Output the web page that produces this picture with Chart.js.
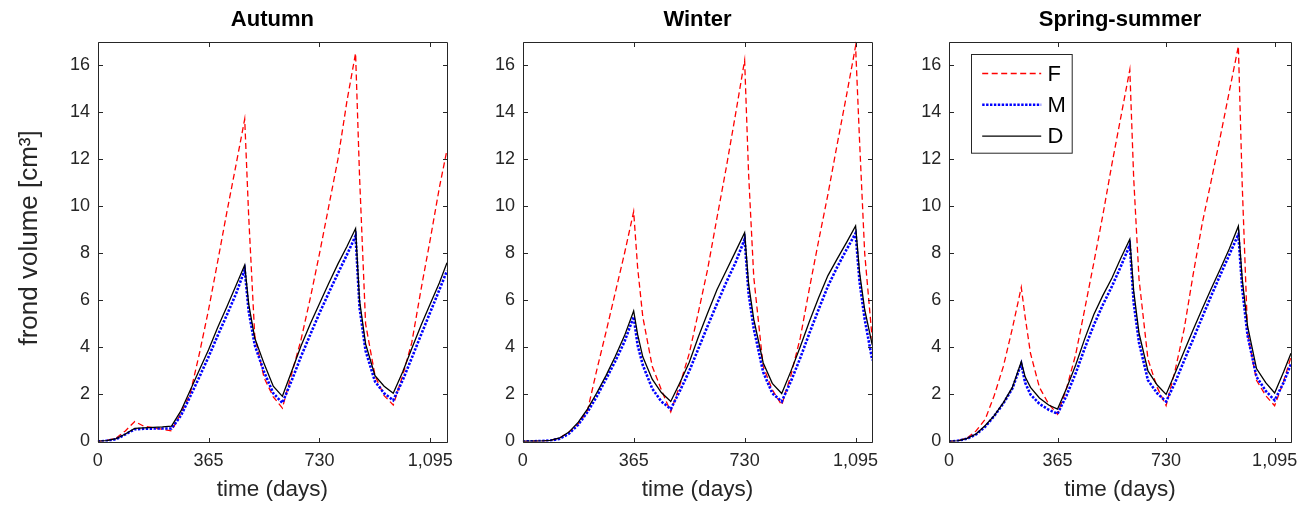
<!DOCTYPE html>
<html><head><meta charset="utf-8">
<script src="https://cdn.jsdelivr.net/npm/chart.js@4/dist/chart.umd.min.js"></script>
<style>
html,body{margin:0;padding:0;background:#fff;width:1311px;height:509px;overflow:hidden}
canvas{position:absolute;top:0}
</style></head><body>
<canvas id="c1" width="460" height="509" style="left:0px"></canvas>
<canvas id="c2" width="425" height="509" style="left:460px"></canvas>
<canvas id="c3" width="426" height="509" style="left:885px"></canvas>
<script>
// ---- data ----
const seriesNames = ['F', 'M', 'D'];
const panelTitles = ['Autumn', 'Winter', 'Spring-summer'];
const xTickValues = [0, 365, 730, 1095];
const yTickValues = [0, 2, 4, 6, 8, 10, 12, 14, 16];

const autumnDays = [0,30,61,91,122,152,183,213,243,274,304,335,365,395,426,456,484,497,517,548,578,608,639,669,700,730,760,791,821,849,862,882,913,943,973,1004,1034,1065,1095,1125,1150];
const autumnF = [0,0.04,0.15,0.45,0.85,0.65,0.58,0.52,0.45,1.2,2.0,3.75,5.6,7.65,9.8,11.8,13.7,9.6,4.5,2.7,1.9,1.42,2.9,4.3,6.1,7.97,9.95,12.0,14.5,16.5,11.3,5.0,2.8,1.95,1.55,2.8,4.2,6.5,8.6,10.8,12.4];
const autumnM = [0,0.03,0.1,0.3,0.52,0.54,0.55,0.55,0.55,1.1,1.9,2.75,3.6,4.5,5.4,6.3,7.3,5.55,4.1,2.95,2.05,1.64,2.6,3.6,4.55,5.45,6.3,7.15,7.95,8.74,5.7,3.85,2.55,2.05,1.75,2.6,3.55,4.55,5.5,6.45,7.26];
const autumnD = [0,0.04,0.12,0.32,0.56,0.58,0.6,0.62,0.65,1.3,2.16,3.05,3.9,4.85,5.75,6.65,7.5,5.85,4.4,3.3,2.35,1.92,3.0,4.05,5.0,5.85,6.7,7.55,8.3,9.05,6.0,4.15,2.8,2.35,2.05,2.95,3.95,4.95,5.85,6.75,7.6];

const winterDays = [0,30,61,91,122,152,183,213,243,274,304,335,365,378,395,426,456,487,517,548,578,608,639,669,700,730,743,760,791,821,852,882,913,943,973,1004,1034,1065,1095,1108,1125,1150];
const winterF = [0,0.01,0.02,0.05,0.15,0.4,0.75,1.3,3.0,4.65,6.3,8.0,9.77,7.4,5.3,3.2,2.2,1.26,2.4,3.75,5.5,7.3,9.5,11.6,13.9,16.2,11.4,7.0,3.2,2.2,1.55,2.8,4.4,6.5,8.5,10.5,12.6,14.7,16.8,12.8,8.0,4.3];
const winterM = [0,0.01,0.02,0.04,0.12,0.33,0.72,1.25,1.9,2.65,3.4,4.25,5.3,4.1,3.25,2.25,1.7,1.38,2.15,3.0,3.95,4.9,5.85,6.75,7.6,8.6,6.3,4.8,2.95,2.05,1.7,2.55,3.55,4.6,5.6,6.6,7.4,8.15,8.85,6.8,5.2,3.45];
const winterD = [0,0.01,0.02,0.05,0.15,0.4,0.82,1.38,2.05,2.8,3.6,4.5,5.55,4.55,3.6,2.65,2.08,1.7,2.5,3.37,4.45,5.45,6.45,7.25,8.07,8.87,6.7,5.2,3.35,2.47,2.04,2.98,4.03,5.1,6.1,7.05,7.75,8.45,9.16,7.2,5.6,4.1];

const springDays = [0,30,61,91,122,152,183,213,243,256,274,304,335,365,395,426,456,487,517,548,578,608,621,639,669,700,730,760,791,821,852,882,913,943,973,986,1004,1034,1065,1095,1125,1150];
const springF = [0,0.03,0.15,0.45,0.95,1.95,3.2,4.8,6.55,5.3,3.75,2.3,1.6,1.16,2.25,3.7,5.6,7.6,9.6,11.8,13.8,15.8,11.2,6.9,3.5,2.3,1.52,3.0,4.8,7.1,9.3,11.1,13.0,14.9,16.8,10.9,4.6,2.6,1.95,1.52,2.55,3.6];
const springM = [0,0.03,0.12,0.3,0.63,1.08,1.62,2.25,3.3,2.5,2.0,1.6,1.35,1.18,1.95,2.9,3.95,4.95,5.8,6.6,7.45,8.35,5.9,4.2,2.6,2.05,1.7,2.5,3.45,4.35,5.3,6.2,7.1,7.95,8.8,6.5,4.5,2.75,2.15,1.75,2.5,3.3];
const springD = [0,0.03,0.13,0.32,0.68,1.1,1.65,2.3,3.39,2.75,2.3,1.85,1.55,1.38,2.25,3.25,4.35,5.4,6.2,6.95,7.8,8.6,6.4,4.6,3.0,2.4,2.0,2.9,3.85,4.75,5.65,6.5,7.35,8.2,9.15,6.9,4.9,3.1,2.5,2.06,2.95,3.75];

// ---- styling ----
Chart.defaults.font.family = "'Liberation Sans', Arial, Helvetica, sans-serif";
const axisColor = '#262626';

const boxAxes = {
  id: 'boxAxes',
  afterDatasetsDraw(chart) {
    const {ctx, chartArea: a, scales: {x, y}} = chart;
    const L = Math.round(a.left) + 0.5, R = Math.round(a.right) + 0.5;
    const T = Math.round(a.top) + 0.5, B = Math.round(a.bottom) + 0.5;
    const tl = 4.5;
    ctx.save();
    ctx.strokeStyle = axisColor;
    ctx.lineWidth = 1;
    ctx.setLineDash([]);
    ctx.beginPath();
    ctx.rect(L, T, R - L, B - T);
    x.ticks.forEach(t => {
      const px = Math.round(x.getPixelForValue(t.value)) + 0.5;
      ctx.moveTo(px, B); ctx.lineTo(px, B - tl);
      ctx.moveTo(px, T); ctx.lineTo(px, T + tl);
    });
    y.ticks.forEach(t => {
      const py = Math.round(y.getPixelForValue(t.value)) + 0.5;
      ctx.moveTo(L, py); ctx.lineTo(L + tl, py);
      ctx.moveTo(R, py); ctx.lineTo(R - tl, py);
    });
    ctx.stroke();
    ctx.restore();
  }
};

const insetLegend = {
  id: 'insetLegend',
  afterDraw(chart, args, o) {
    if (!o || !o.display) return;
    const {ctx, chartArea: a} = chart;
    const bx = Math.round(a.left + o.offsetX) + 0.5, by = Math.round(a.top + o.offsetY) + 0.5;
    ctx.save();
    ctx.fillStyle = '#ffffff';
    ctx.fillRect(bx, by, o.width, o.height);
    ctx.strokeStyle = axisColor;
    ctx.lineWidth = 1;
    ctx.strokeRect(bx, by, o.width, o.height);
    chart.data.datasets.forEach((ds, i) => {
      const yy = by + o.firstRow + i * o.rowGap;
      ctx.beginPath();
      ctx.setLineDash(ds.borderDash || []);
      ctx.strokeStyle = ds.borderColor;
      ctx.lineWidth = ds.borderWidth;
      ctx.moveTo(bx + o.lineStart, yy);
      ctx.lineTo(bx + o.lineEnd, yy);
      ctx.stroke();
      ctx.setLineDash([]);
      ctx.fillStyle = '#000000';
      ctx.font = o.font;
      ctx.textBaseline = 'middle';
      ctx.textAlign = 'left';
      ctx.fillText(ds.label, bx + o.textX, yy + 1);
    });
    ctx.restore();
  }
};

const lineStyles = [
  {borderColor: '#ff0000', borderWidth: 1.3, borderDash: [6, 3.5], order: 3},
  {borderColor: '#0000ff', borderWidth: 2.6, borderDash: [2.4, 1.5], order: 2},
  {borderColor: '#000000', borderWidth: 1.3, borderDash: [], order: 1}
];

function makePanel(canvasId, idx, days, seriesList, layout) {
  const datasets = seriesList.map((vals, k) => Object.assign({
    label: seriesNames[k],
    data: days.map((d, j) => ({x: d, y: vals[j]})),
    pointRadius: 0,
    tension: 0,
    fill: false,
    borderCapStyle: 'butt',
    borderJoinStyle: 'miter'
  }, lineStyles[k]));
  return new Chart(document.getElementById(canvasId), {
    type: 'line',
    data: {datasets},
    plugins: [boxAxes, insetLegend],
    options: {
      responsive: false,
      animation: false,
      devicePixelRatio: 1,
      layout: {padding: {left: 0, right: layout.padRight, top: 0, bottom: 0}},
      plugins: {
        legend: {display: false},
        tooltip: {enabled: false},
        title: {
          display: true, fullSize: false, text: panelTitles[idx], color: '#000000',
          font: {size: 22, weight: 'bold'}, padding: {top: 7, bottom: 8.1}
        },
        insetLegend: layout.legend || {display: false}
      },
      scales: {
        x: {
          type: 'linear', min: 0, max: 1150,
          grid: {display: false, drawTicks: false},
          border: {display: false},
          afterBuildTicks: s => { s.ticks = xTickValues.map(v => ({value: v})); },
          afterFit: s => { s.height = 67.5; s.paddingLeft = 0; s.paddingRight = 0; },
          ticks: {
            color: axisColor, font: {size: 18}, padding: 9.2, maxRotation: 0,
            callback: v => Number(v).toLocaleString('en-US')
          },
          title: {display: true, text: 'time (days)', color: axisColor, font: {size: 22.5}, padding: {top: 0, bottom: 6}}
        },
        y: {
          type: 'linear', min: 0, max: 17,
          grid: {display: false, drawTicks: false},
          border: {display: false},
          afterBuildTicks: s => { s.ticks = yTickValues.map(v => ({value: v})); },
          afterFit: s => { s.width = layout.yWidth; },
          ticks: {color: axisColor, font: {size: 18}, padding: 7.7},
          title: {display: layout.yTitle, text: ' frond volume [cm³]', color: axisColor, font: {size: 26}, padding: {top: 14, bottom: 0}}
        }
      }
    }
  });
}

makePanel('c1', 0, autumnDays, [autumnF, autumnM, autumnD], {padRight: 13, yWidth: 97.7, yTitle: true});
makePanel('c2', 1, winterDays, [winterF, winterM, winterD], {padRight: 12.7, yWidth: 62.7, yTitle: false});
makePanel('c3', 2, springDays, [springF, springM, springD], {
  padRight: 20, yWidth: 64, yTitle: false,
  legend: {display: true, offsetX: 22, offsetY: 12.8, width: 100.7, height: 98.7,
           firstRow: 19, rowGap: 31.3, lineStart: 10.7, lineEnd: 69.7, textX: 76,
           font: "22px 'Liberation Sans', Arial, sans-serif"}
});
</script>
</body></html>
